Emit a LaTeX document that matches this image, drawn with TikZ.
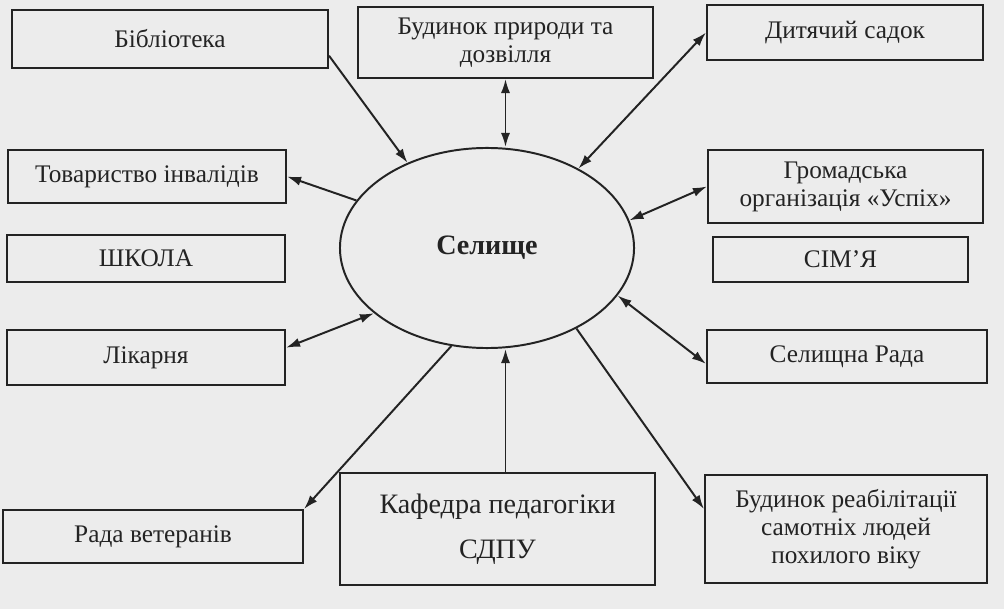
\documentclass[tikz,border=0pt]{standalone}
\usepackage{fontspec}
\setmainfont{Liberation Serif}
\usetikzlibrary{shapes.geometric,arrows.meta}
\definecolor{paper}{RGB}{236,236,236}
\definecolor{ink}{RGB}{35,35,35}

\begin{document}
\begin{tikzpicture}[x=0.025cm, y=-0.025cm, >={Latex[length=10pt,width=6.5pt]},
  box/.style={draw=ink, line width=1.4pt, text=ink, align=center, inner sep=2pt,
    font=\fontsize{18}{20}\selectfont},
  link/.style={draw=ink, line width=1.4pt}]
  % Page
  \fill[paper] (0,0) rectangle (1004,609);
  \useasboundingbox (0,0) rectangle (1004,609);

  % Centre
  \node[ellipse, draw=ink, line width=1.4pt, text=ink, minimum width=7.35cm,
    minimum height=5cm, font=\bfseries\fontsize{20}{24}\selectfont] (sel) at (487,248) {Селище};

  % Top row
  \node[box, minimum width=7.9cm, minimum height=1.45cm] (bib) at (170,39) {Бібліотека};
  \node[box, minimum width=7.375cm, minimum height=1.775cm] (bud) at (505.5,42.5) {Будинок природи та\\дозвілля};
  \node[box, minimum width=6.9cm, minimum height=1.375cm] (sad) at (845,32.5) {Дитячий садок};

  % Left column
  \node[box, minimum width=6.95cm, minimum height=1.325cm] (tov) at (147,176.5) {Товариство інвалідів};
  \node[box, minimum width=6.95cm, minimum height=1.175cm] (shk) at (146,258.5) {ШКОЛА};
  \node[box, minimum width=6.95cm, minimum height=1.375cm] (lik) at (146,357.5) {Лікарня};

  % Right column
  \node[box, minimum width=6.875cm, minimum height=1.825cm] (gro) at (845.5,186.5) {Громадська\\організація «Успіх»};
  \node[box, minimum width=6.375cm, minimum height=1.125cm] (sim) at (840.5,259.5) {СІМ’Я};
  \node[box, minimum width=7cm, minimum height=1.325cm] (ser) at (847,356.5) {Селищна Рада};

  % Bottom row
  \node[box, minimum width=7.5cm, minimum height=1.325cm] (rad) at (153,536.5) {Рада ветеранів};
  \node[box, minimum width=7.875cm, minimum height=2.8cm, font=\fontsize{20}{24}\selectfont] (kaf) at (497.5,529) {Кафедра педагогіки\\[8pt]СДПУ};
  \node[box, minimum width=7.05cm, minimum height=2.7cm] (reb) at (846,529) {Будинок реабілітації\\самотніх людей\\похилого віку};

  % Links
  \draw[link,->] (bib.-6) -- (sel.133);
  \draw[link,<->] (bud.south) -- (bud.south |- sel.north);
  \draw[link,<->] (sad.west) -- (sel.41);
  \draw[link,->] (sel.160) -- (tov.east);
  \draw[link,<->] (gro.west) -- (sel.11);
  \draw[link,<->] (lik.4) -- (sel.210);
  \draw[link,<->] (sel.-20) -- (ser.183);
  \draw[link,->] (sel.250) -- (rad.north east);
  \draw[link,->] (kaf.north -| bud) -- (bud |- sel.south);
  \draw[link,->] (sel.-42) -- (reb.172);
\end{tikzpicture}
\end{document}
